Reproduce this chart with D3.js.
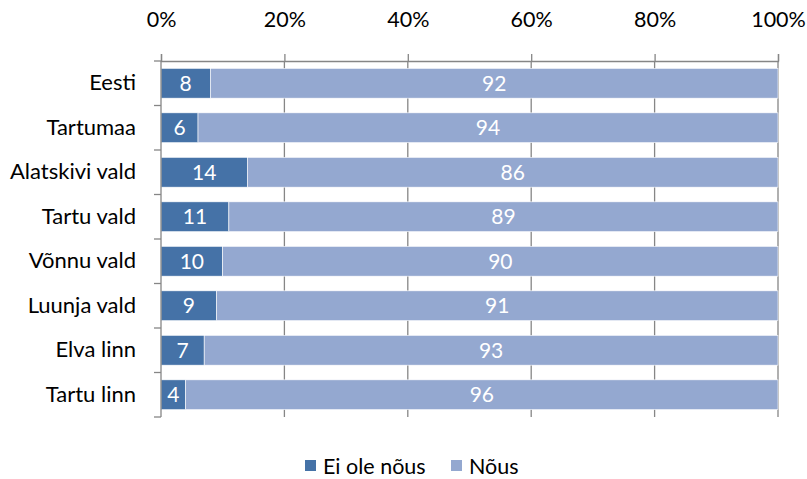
<!DOCTYPE html>
<html><head><meta charset="utf-8">
<script src="https://cdn.jsdelivr.net/npm/d3@7"></script>
<style>
body{margin:0;background:#fff;}
text{font-family:Lato,"Open Sans",sans-serif;}
</style></head>
<body>
<svg id="c" width="807" height="479"></svg>
<script>
const categories = ["Eesti","Tartumaa","Alatskivi vald","Tartu vald","Võnnu vald","Luunja vald","Elva linn","Tartu linn"];
const eiOleNous = [8,6,14,11,10,9,7,4];
const nous = [92,94,86,89,90,91,93,96];
const seriesNames = ["Ei ole nõus","Nõus"];
const colors = ["#4572A7","#94A8D0"];
const tickValues = [0,20,40,60,80,100];

const svg = d3.select("#c");
const m = {left:161, right:29, top:61, bottom:62};
const W = 807 - m.left - m.right, H = 479 - m.top - m.bottom;
const g = svg.append("g").attr("transform",`translate(${m.left},${m.top})`);

const x = d3.scaleLinear().domain([0,100]).range([0,W]);
const y = d3.scaleBand().domain(categories).range([0,H]).paddingInner(0.33).paddingOuter(0.165);

// gridlines
g.selectAll(".grid").data(tickValues.slice(1)).enter().append("line")
  .attr("x1",d=>x(d)).attr("x2",d=>x(d)).attr("y1",0).attr("y2",H)
  .attr("stroke","#868686").attr("stroke-width",1.3);

const rows = categories.map((c,i)=>({cat:c, vals:[eiOleNous[i], nous[i]]}));
const data = rows.map(r=>{ const tot = r.vals[0]+r.vals[1]; return {cat:r.cat, segs:[
  {s:0, x0:0, x1:r.vals[0]/tot*100, v:r.vals[0]},
  {s:1, x0:r.vals[0]/tot*100, x1:100, v:r.vals[1]}]};});

const rg = g.selectAll(".row").data(data).enter().append("g");
rg.selectAll("rect").data(d=>d.segs.map(s=>({...s,cat:d.cat}))).enter().append("rect")
  .attr("x",d=>x(d.x0)).attr("width",d=>x(d.x1)-x(d.x0))
  .attr("y",d=>y(d.cat)).attr("height",y.bandwidth())
  .attr("fill",d=>colors[d.s]).attr("stroke","#fff").attr("stroke-width",0.6);
rg.selectAll("text").data(d=>d.segs.map(s=>({...s,cat:d.cat}))).enter().append("text")
  .attr("x",d=>x((d.x0+d.x1)/2)).attr("y",d=>y(d.cat)+y.bandwidth()/2)
  .attr("dy","0.36em").attr("text-anchor","middle").attr("fill","#fff")
  .attr("font-size",21).text(d=>d.v);

// top axis
const xa = g.append("g").call(d3.axisTop(x).tickValues(tickValues).tickFormat(d=>d+"%").tickSize(7).tickPadding(27));
xa.select(".domain").attr("stroke","#868686").attr("stroke-width",1.3);
xa.selectAll(".tick line").attr("stroke","#868686").attr("stroke-width",1.3);
xa.selectAll(".tick text").attr("font-size",21.5).attr("fill","#000");

// left axis
const ya = g.append("g").call(d3.axisLeft(y).tickSize(0).tickPadding(25));
ya.select(".domain").attr("stroke","#868686").attr("stroke-width",1.3).attr("d",`M0,0V${H}`);
ya.selectAll(".tick text").attr("font-size",22).attr("fill","#000");
g.selectAll(".yt").data(d3.range(categories.length+1)).enter().append("line")
  .attr("x1",-7).attr("x2",0).attr("y1",i=>i*H/categories.length).attr("y2",i=>i*H/categories.length)
  .attr("stroke","#868686").attr("stroke-width",1.3);

// legend
const lg = svg.append("g").attr("transform","translate(305,460)");
const lx = [0,146];
seriesNames.forEach((n,i)=>{
  lg.append("rect").attr("x",lx[i]).attr("y",0).attr("width",11).attr("height",11).attr("fill",colors[i]);
  lg.append("text").attr("x",lx[i]+18).attr("y",6).attr("dy","0.36em").attr("font-size",21.5).attr("fill","#000").text(n);
});
</script>
</body></html>
